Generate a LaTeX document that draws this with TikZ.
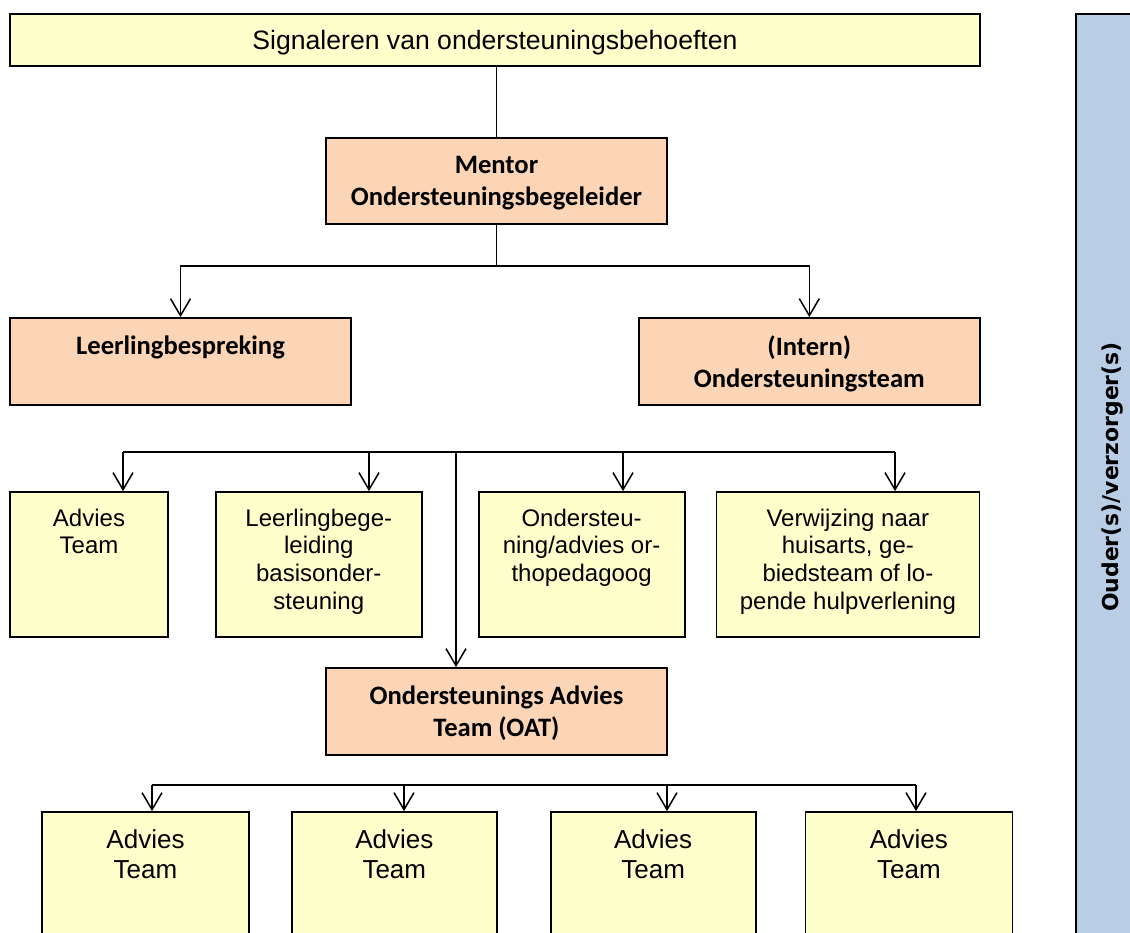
\documentclass[tikz,border=0pt]{standalone}
\usepackage{fontspec}
\setmainfont{Liberation Sans}
\newfontfamily\calibri{Carlito}
\newfontfamily\verdana{DejaVu Sans}
\usetikzlibrary{positioning, arrows.meta}
\definecolor{geel}{HTML}{FFFFCC}
\definecolor{oranje}{HTML}{FBD5B5}
\definecolor{blauw}{HTML}{B9CDE5}

\begin{document}
\begin{tikzpicture}[x=1pt, y=-1pt, line width=1.8pt,
  every node/.style={draw, rectangle, inner sep=0pt, align=center},
  geelbox/.style={fill=geel},
  oranjebox/.style={fill=oranje, minimum width=341pt, minimum height=87pt, text depth=0pt, font=\calibri\bfseries\fontsize{26.6}{32}\selectfont},
  tekst/.style={draw=none, fill=none, align=center},
  lijn/.style={line width=1.5pt},
  pijl/.style={-{Straight Barb[length=17pt, width=20pt]}, line width=1.5pt}]
  \useasboundingbox (0,0) rectangle (1130,932);
  \clip (0,0) rectangle (1130,932);

  \node[geelbox, minimum width=970pt, minimum height=52pt, text depth=0pt, font=\fontsize{26.6}{32}\selectfont] (signaal) at (495,40) {Signaleren van ondersteuningsbehoeften};
  \node[oranjebox, minimum height=86pt] (mentor) at (496.5,181) {Mentor\\Ondersteuningsbegeleider};
  \node[oranjebox] (bespreking) at (180.5,361.5) {Leerlingbespreking\\\phantom{(Intern)}};
  \node[oranjebox] (intern) [right=286pt of bespreking] {(Intern)\\Ondersteuningsteam};

  % tweede rij
  \node[geelbox, minimum width=158pt, minimum height=145pt,
    label={[tekst, below=17pt, font=\fontsize{24}{27.6}\selectfont]north:{Advies\\Team}}] (advies) at (89,564.5) {};
  \node[geelbox, minimum width=206pt, minimum height=145pt,
    label={[tekst, below=17pt, font=\fontsize{24}{27.6}\selectfont]north:{Leerlingbege-\\leiding\\basisonder-\\steuning}}] (begeleiding) [right=46pt of advies] {};
  \node[geelbox, minimum width=206pt, minimum height=145pt,
    label={[tekst, below=17pt, font=\fontsize{24}{27.6}\selectfont]north:{Ondersteu-\\ning/advies or-\\thopedagoog}}] (orthopedagoog) [right=55pt of begeleiding] {};
  \node[geelbox, minimum width=263pt, minimum height=145pt,
    label={[tekst, below=17pt, font=\fontsize{24}{27.6}\selectfont]north:{Verwijzing naar\\huisarts, ge-\\biedsteam of lo-\\pende hulpverlening}}] (verwijzing) [right=30pt of orthopedagoog] {};

  \node[oranjebox] (oat) at (496.5,711.5) {Ondersteunings Advies\\Team (OAT)};

  % derde rij
  \node[geelbox, minimum width=207pt, minimum height=140pt,
    label={[tekst, below=18pt, font=\fontsize{26}{30}\selectfont]north:{Advies\\Team}}] (team1) at (145.5,882) {};
  \node[geelbox, minimum width=205pt, minimum height=140pt,
    label={[tekst, below=18pt, font=\fontsize{26}{30}\selectfont]north:{Advies\\Team}}] (team2) [right=41pt of team1] {};
  \node[geelbox, minimum width=205pt, minimum height=140pt,
    label={[tekst, below=18pt, font=\fontsize{26}{30}\selectfont]north:{Advies\\Team}}] (team3) [right=52pt of team2] {};
  \node[geelbox, minimum width=207pt, minimum height=140pt,
    label={[tekst, below=18pt, font=\fontsize{26}{30}\selectfont]north:{Advies\\Team}}] (team4) [right=48pt of team3] {};

  \node[fill=blauw, rotate=90, minimum width=926pt, minimum height=74pt, font=\verdana\bfseries\fontsize{21.9}{26}\selectfont] (ouders) at (1113,477) {Ouder(s)/verzorger(s)};

  % verbindingen
  \draw[lijn] (mentor.north) -- (mentor.north |- signaal.south);
  \draw[lijn] (mentor.south) -- ++(0,41) coordinate (m);
  \draw[pijl] (m) -| (bespreking.north);
  \draw[pijl] (m) -| (intern.north);

  \coordinate (r1) at (123,452);
  \coordinate (r2) at (369,452);
  \coordinate (r3) at (456,452);
  \coordinate (r4) at (623,452);
  \coordinate (r5) at (895,452);
  \draw[lijn] (r1) -- (r5);
  \draw[pijl] (r1) -- (r1 |- advies.north);
  \draw[pijl] (r2) -- (r2 |- begeleiding.north);
  \draw[pijl] (r3) -- (r3 |- oat.north);
  \draw[pijl] (r4) -- (r4 |- orthopedagoog.north);
  \draw[pijl] (r5) -- (r5 |- verwijzing.north);

  \coordinate (t1) at (152,785);
  \coordinate (t2) at (404,785);
  \coordinate (t3) at (667,785);
  \coordinate (t4) at (916,785);
  \draw[lijn] (t1) -- (t4);
  \draw[pijl] (t1) -- (t1 |- team1.north);
  \draw[pijl] (t2) -- (t2 |- team2.north);
  \draw[pijl] (t3) -- (t3 |- team3.north);
  \draw[pijl] (t4) -- (t4 |- team4.north);
\end{tikzpicture}
\end{document}
